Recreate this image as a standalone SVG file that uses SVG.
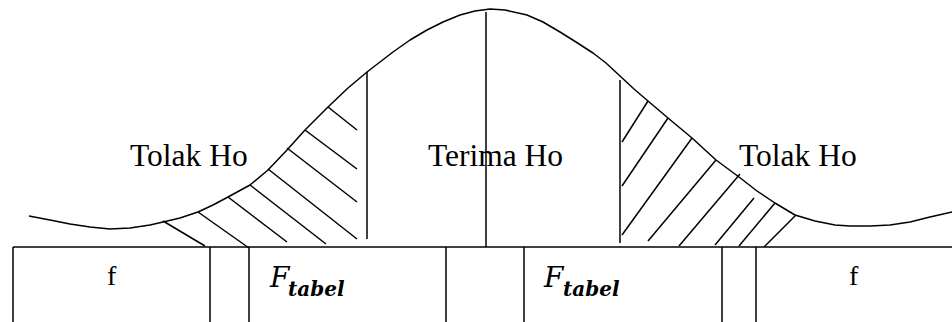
<svg xmlns="http://www.w3.org/2000/svg" width="952" height="322" viewBox="0 0 952 322">
<style>
.ln{stroke:#000;stroke-width:1.5;fill:none;stroke-linecap:butt;stroke-linejoin:round}
.lbl{font-family:"Liberation Serif","Times New Roman",serif;font-size:31.5px;fill:#000}
.f{font-family:"Liberation Serif","Times New Roman",serif;font-size:28px;fill:#000}
.F{font-family:"DejaVu Serif",serif;font-style:italic;font-size:28px;fill:#000}
.sub{font-family:"DejaVu Serif",serif;font-style:italic;font-weight:bold;font-size:20px;fill:#000}
</style>
<rect width="952" height="322" fill="#fff"/>
<g id="curve">
<path class="ln" d="M29,216 L50,220 L70,224 L90,227 L110,229 L130,228 L150,225 L163,222 L180,218 L198,212 L213,205 L228,197 L250,185 L268,170 L287,150 L305,130 L328,107 L348,88 L367,72 L380,62 L393,52 L410,40 L427,30 L443,22 L460,15 L475,11 L490,9 L505,10 L527,15 L543,22 L560,32 L576,42 L593,53 L606,63 L620,76 L634,89 L648,101 L668,118 L692,138 L716,160 L739,177 L757,191 L775,203 L795,215 L815,221 L835,225 L850,226 L870,226 L890,225 L910,222 L930,217 L952,212"/>
</g>
<g id="center-line">
<line class="ln" x1="486" y1="12" x2="486" y2="247"/>
</g>
<g id="left-hatch">
<line class="ln" x1="367" y1="72" x2="367" y2="239"/>
<line class="ln" x1="163" y1="221" x2="205" y2="246"/>
<line class="ln" x1="198" y1="212" x2="249" y2="248"/>
<line class="ln" x1="228" y1="197" x2="287" y2="242"/>
<line class="ln" x1="250" y1="185" x2="326" y2="244"/>
<line class="ln" x1="268" y1="169" x2="357" y2="239"/>
<line class="ln" x1="287" y1="148" x2="357" y2="202"/>
<line class="ln" x1="305" y1="130" x2="357" y2="169"/>
<line class="ln" x1="328" y1="107" x2="357" y2="130"/>
</g>
<g id="right-hatch">
<line class="ln" x1="620" y1="80" x2="620" y2="243"/>
<line class="ln" x1="622" y1="142" x2="648" y2="101"/>
<line class="ln" x1="622" y1="186" x2="668" y2="118"/>
<line class="ln" x1="622" y1="235" x2="692" y2="138"/>
<line class="ln" x1="648" y1="241" x2="716" y2="160"/>
<line class="ln" x1="679" y1="246" x2="740" y2="174"/>
<line class="ln" x1="715" y1="245" x2="754" y2="198"/>
<line class="ln" x1="739" y1="246" x2="775" y2="203"/>
<line class="ln" x1="764" y1="247" x2="796" y2="215"/>
</g>
<g id="labels">
<text class="lbl" x="130" y="166">Tolak Ho</text>
<text class="lbl" x="428" y="166">Terima Ho</text>
<text class="lbl" x="739" y="166">Tolak Ho</text>
</g>
<g id="table">
<line class="ln" x1="13" y1="247" x2="952" y2="247"/>
<g id="cell-f-left">
<line class="ln" x1="13" y1="247" x2="13" y2="322"/>
<text class="f" x="107" y="285">f</text>
</g>
<g id="cell-gap-left">
<line class="ln" x1="210" y1="247" x2="210" y2="322"/>
</g>
<g id="cell-ftabel-left">
<line class="ln" x1="249" y1="247" x2="249" y2="322"/>
<text class="F" x="270" y="287">F</text>
<text class="sub" x="288" y="296">tabel</text>
</g>
<g id="cell-mid">
<line class="ln" x1="446" y1="247" x2="446" y2="322"/>
</g>
<g id="cell-ftabel-right">
<line class="ln" x1="524" y1="247" x2="524" y2="322"/>
<text class="F" x="544" y="287">F</text>
<text class="sub" x="563" y="296">tabel</text>
</g>
<g id="cell-gap-right">
<line class="ln" x1="722" y1="247" x2="722" y2="322"/>
</g>
<g id="cell-f-right">
<line class="ln" x1="756" y1="247" x2="756" y2="322"/>
<text class="f" x="849" y="285">f</text>
</g>
</g>
</svg>
